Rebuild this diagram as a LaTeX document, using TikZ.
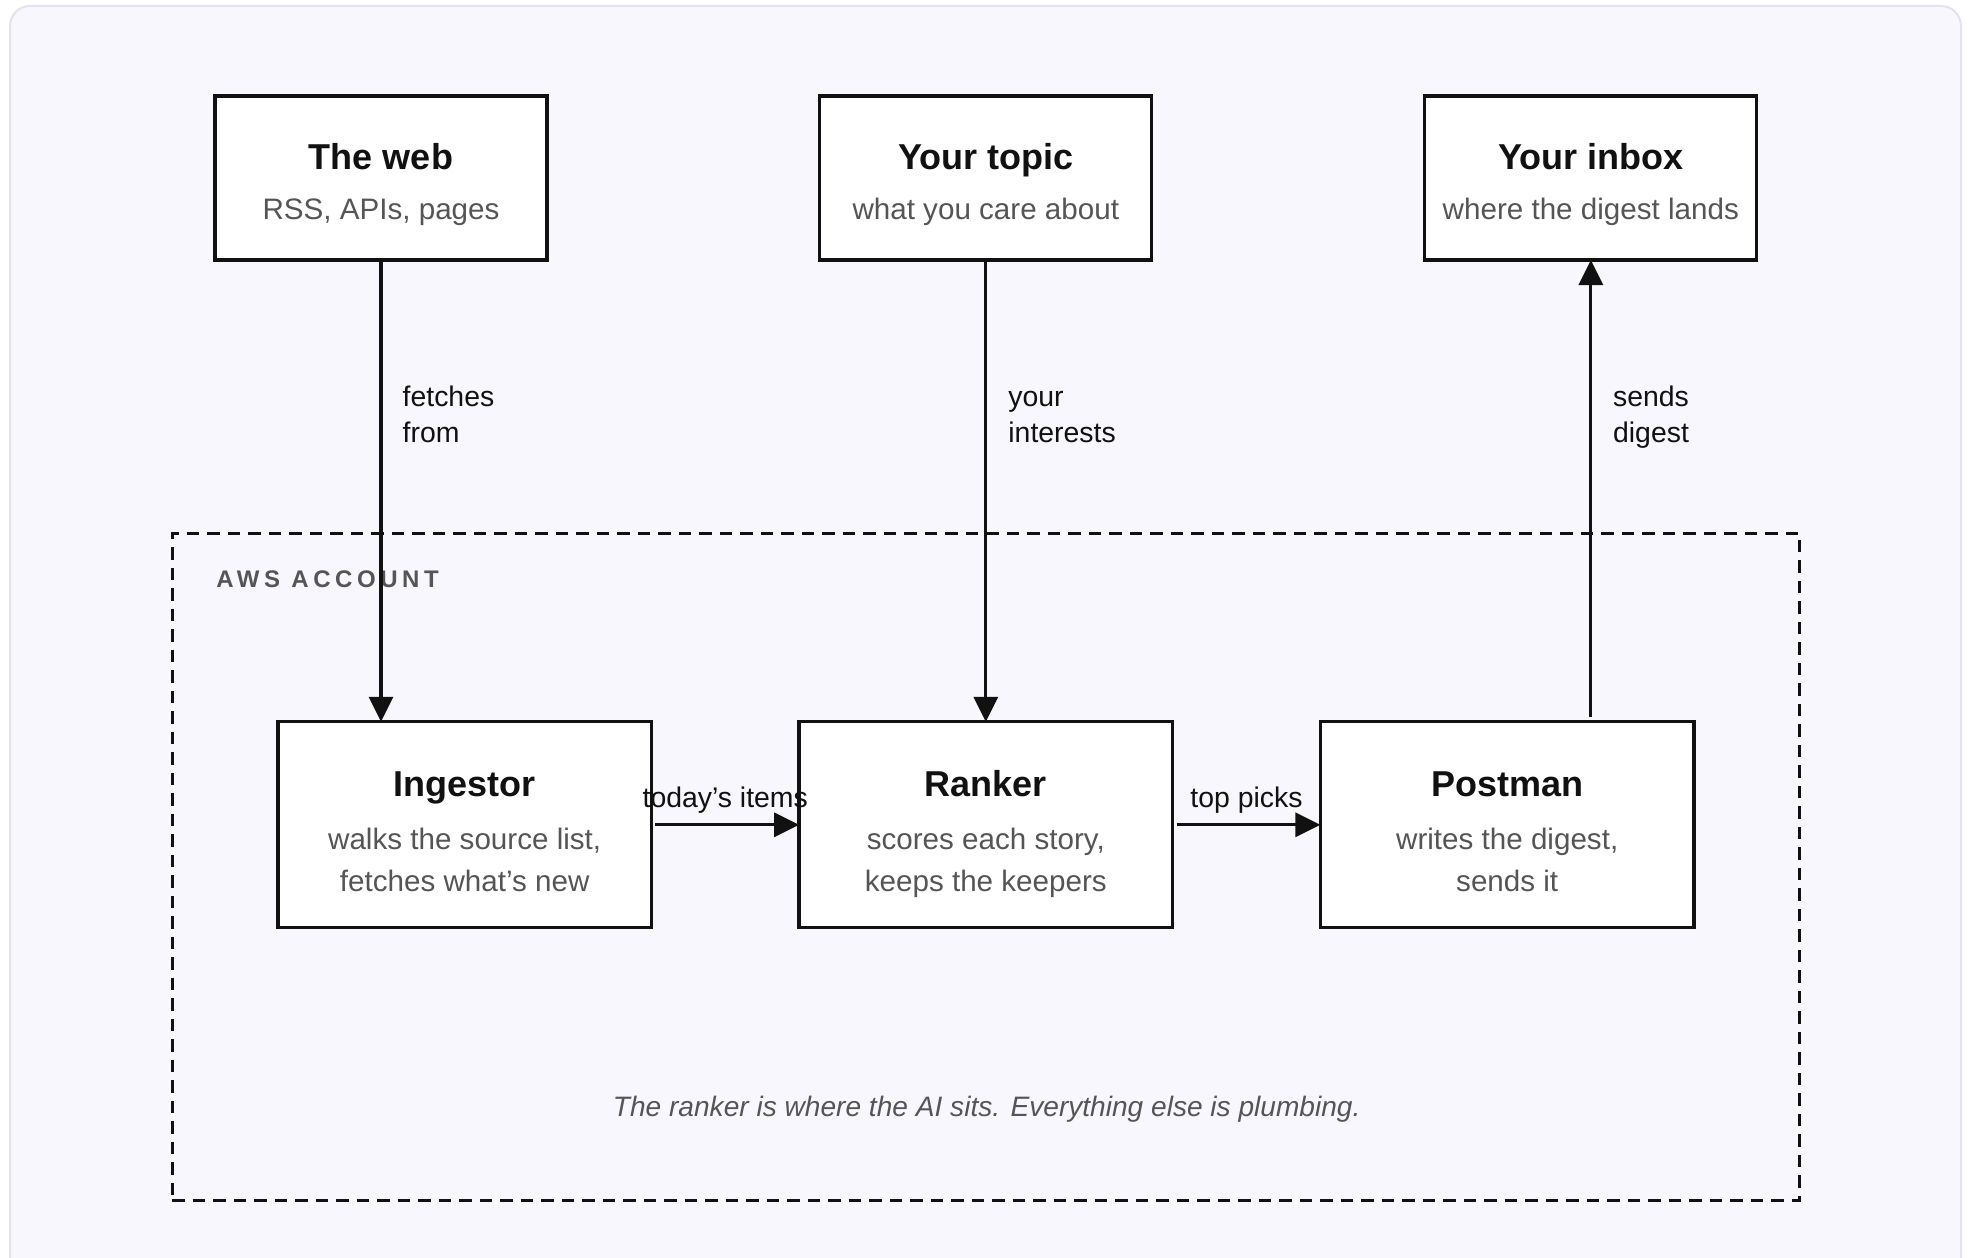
\documentclass[tikz,border=0pt]{standalone}
\usepackage{fontspec}
\setmainfont{Liberation Sans}
\usetikzlibrary{arrows.meta,calc}

\definecolor{ink}{HTML}{111111}
\definecolor{muted}{HTML}{555555}
\definecolor{panelfill}{HTML}{F8F7FD}
\definecolor{panelline}{HTML}{E4E2EE}

\tikzset{
  box/.style={draw=ink, fill=white, line width=1.6pt, inner sep=0pt, outer sep=0pt},
  topbox/.style={box, minimum width=166pt, minimum height=82pt},
  svcbox/.style={box, minimum width=186.75pt, minimum height=103pt},
  boxtitle/.style={anchor=base, inner sep=0pt, text=ink,
    font=\fontsize{18}{22}\selectfont\bfseries},
  boxnote/.style={anchor=base, inner sep=0pt, text=muted, align=center,
    font=\fontsize{14.8}{20.75}\selectfont},
  flow/.style={draw=ink, line width=1.6pt,
    -{Triangle[length=12.5pt,width=12pt]}},
  flowlabel/.style={inner sep=0pt, text=ink, align=left,
    font=\fontsize{14.2}{18}\selectfont},
  groupbox/.style={draw=ink, line width=1.5pt, dash pattern=on 6.25pt off 4pt,
    inner sep=0pt, outer sep=0pt, minimum width=813.75pt, minimum height=333.5pt},
}

\begin{document}
\begin{tikzpicture}[x=0.5pt, y=-0.5pt]
  % canvas and light panel
  \clip (0,0) rectangle (1968,1257);
  \fill[white] (0,0) rectangle (1968,1257);
  \draw[panelline, fill=panelfill, line width=1pt, rounded corners=10pt]
    (10,6) rectangle (1961,1320);

  % AWS account boundary
  \node[groupbox] (aws) at (985.75,866.5) {};
  \node[anchor=base west, inner sep=0pt, text=muted,
        font=\fontsize{12}{14}\selectfont\bfseries\addfontfeature{LetterSpace=19}]
        (awslabel) at (216,587.3) {AWS ACCOUNT};

  % outside actors
  \node[topbox] (web)   at (381,178)   {};
  \node[topbox] (topic) at (985.8,178) {};
  \node[topbox] (inbox) at (1590.8,178) {};

  \node[boxtitle] (web-t)   at ($(web.north)+(0,74)$)     {The web};
  \node[boxnote]  (web-s)   at ($(web.north)+(0,123.5)$)  {RSS, APIs, pages};
  \node[boxtitle] (topic-t) at ($(topic.north)+(0,74)$)   {Your topic};
  \node[boxnote]  (topic-s) at ($(topic.north)+(0,123.5)$){what you care about};
  \node[boxtitle] (inbox-t) at ($(inbox.north)+(0,74)$)   {Your inbox};
  \node[boxnote]  (inbox-s) at ($(inbox.north)+(0,123.5)$){where the digest lands};

  % services inside the account
  \node[svcbox] (ingestor) at (464.7,824.8)  {};
  \node[svcbox] (ranker)   at (985.8,824.8)  {};
  \node[svcbox] (postman)  at (1507.2,824.8) {};

  % two-line notes are placed by the baseline of their last line
  \node[boxtitle] (ingestor-t) at ($(ingestor.north)+(0,74.2)$)  {Ingestor};
  \node[boxnote]  (ingestor-s) at ($(ingestor.north)+(0,169.2)$) {walks the source list,\\fetches what’s new};
  \node[boxtitle] (ranker-t)   at ($(ranker.north)+(0,74.2)$)    {Ranker};
  \node[boxnote]  (ranker-s)   at ($(ranker.north)+(0,169.2)$)   {scores each story,\\keeps the keepers};
  \node[boxtitle] (postman-t)  at ($(postman.north)+(0,74.2)$)   {Postman};
  \node[boxnote]  (postman-s)  at ($(postman.north)+(0,169.2)$)  {writes the digest,\\sends it};

  % flows
  \draw[flow] (web.south) -- (web.south |- ingestor.north);
  \draw[flow] (topic.south) -- (ranker.north);
  \draw[flow, shorten <=2.5pt] (inbox.south |- postman.north) -- (inbox.south);
  \draw[flow, shorten <=2pt] (ingestor.east) -- (ranker.west);
  \draw[flow, shorten <=2pt] (ranker.east) -- (postman.west);

  % flow labels
  \node[flowlabel, anchor=base west] (l-fetch) at (402.3,442.7)  {fetches\\from};
  \node[flowlabel, anchor=base west] (l-int)   at (1008,442.7)   {your\\interests};
  \node[flowlabel, anchor=base west] (l-send)  at (1612.7,442.7) {sends\\digest};
  \node[flowlabel, anchor=base] (l-items) at ($(ingestor.east)!0.5!(ranker.west)+(0,-17.5)$) {today’s items};
  \node[flowlabel, anchor=base] (l-picks) at ($(ranker.east)!0.5!(postman.west)+(0,-17.5)$) {top picks};

  % caption
  \node[anchor=base, inner sep=0pt, text=muted,
        font=\fontsize{14.05}{17}\selectfont\itshape]
        (caption) at (986.7,1116.7)
        {The ranker is where the AI sits. Everything else is plumbing.};
\end{tikzpicture}
\end{document}
